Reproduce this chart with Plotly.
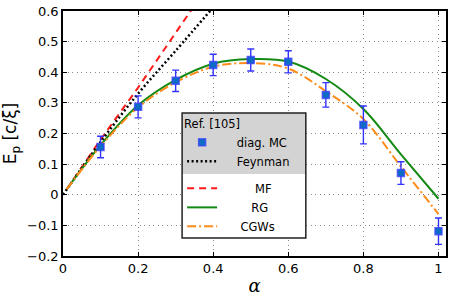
import plotly.graph_objects as go

# ---- data ----
mc_alpha = [0.1, 0.2, 0.3, 0.4, 0.5, 0.6, 0.7, 0.8, 0.9, 1.0]
mc_energy = [0.156, 0.287, 0.372, 0.424, 0.440, 0.434, 0.326, 0.228, 0.071, -0.119]
mc_err = [0.035, 0.036, 0.035, 0.035, 0.036, 0.036, 0.040, 0.062, 0.037, 0.043]

mf_alpha = [0.01, 0.1, 0.2, 0.3, 0.35]
mf_energy = [0.018, 0.180, 0.350, 0.530, 0.618]

feyn_alpha = [0.0, 0.1, 0.2, 0.3, 0.4]
feyn_energy = [0.0, 0.172, 0.330, 0.470, 0.612]

curve_alpha = [0.01, 0.1, 0.2, 0.3, 0.4, 0.5, 0.6, 0.7, 0.8, 0.9, 1.0]
rg_energy = [0.018, 0.162, 0.292, 0.375, 0.428, 0.443, 0.435, 0.378, 0.280, 0.132, -0.013]
cgw_energy = [0.018, 0.158, 0.285, 0.367, 0.418, 0.430, 0.412, 0.338, 0.247, 0.092, -0.063]

x_ticks = [0, 0.2, 0.4, 0.6, 0.8, 1.0]
x_ticklabels = ["0", "0.2", "0.4", "0.6", "0.8", "1"]
y_ticks = [-0.2, -0.1, 0, 0.1, 0.2, 0.3, 0.4, 0.5, 0.6]
y_ticklabels = ["\u22120.2", "\u22120.1", "0", "0.1", "0.2", "0.3", "0.4", "0.5", "0.6"]

NB = "\u00a0"
fig = go.Figure()

fig.add_trace(go.Scatter(
    x=mf_alpha, y=mf_energy, mode="lines", name=NB * 9 + "MF",
    line=dict(color="#ff1a1a", width=2, dash="7px,5px"),
    legendgroup="b", legendrank=3))
fig.add_trace(go.Scatter(
    x=feyn_alpha, y=feyn_energy, mode="lines", name=NB * 4 + "Feynman",
    line=dict(color="black", width=2.5, dash="2px,2.5px"), line_shape="spline",
    legendgroup="a", legendrank=2))
fig.add_trace(go.Scatter(
    x=curve_alpha, y=rg_energy, mode="lines", name=NB * 8 + "RG",
    line=dict(color="#138a13", width=2), line_shape="spline",
    legendgroup="b", legendrank=4))
fig.add_trace(go.Scatter(
    x=curve_alpha, y=cgw_energy, mode="lines", name=NB * 5 + "CGWs",
    line=dict(color="#ff8c1a", width=2, dash="9px,3px,2px,3px"), line_shape="spline",
    legendgroup="b", legendrank=5))
fig.add_trace(go.Scatter(
    x=mc_alpha, y=mc_energy, mode="markers", name=NB * 4 + "diag. MC",
    marker=dict(symbol="square", size=7, color="#0d6cc4",
                line=dict(color="rgba(60,60,255,0.75)", width=1.5)),
    error_y=dict(type="data", array=mc_err, color="#3333ff", thickness=1.4, width=3.5),
    legendgroup="a", legendrank=1))

# legend background panels (gray upper part, white lower part) and frame
fig.add_shape(type="rect", xref="paper", yref="paper", x0=0.311, x1=0.634, y0=0.335, y1=0.584,
              fillcolor="#d3d3d3", line_width=0, layer="above")
fig.add_shape(type="rect", xref="paper", yref="paper", x0=0.311, x1=0.634, y0=0.0735, y1=0.335,
              fillcolor="white", line_width=0, layer="above")
fig.add_shape(type="rect", xref="paper", yref="paper", x0=0.311, x1=0.634, y0=0.0735, y1=0.584,
              fillcolor="rgba(0,0,0,0)", line=dict(color="#222222", width=1.5), layer="above")

axis_common = dict(
    showline=True, linecolor="black", linewidth=1.5, mirror="ticks",
    ticks="inside", ticklen=4, tickwidth=1, tickcolor="black",
    showgrid=True, gridcolor="#888888", gridwidth=1, griddash="1px,3.5px",
    zeroline=False, tickfont=dict(size=13, color="black"), automargin=False,
)

fig.update_layout(
    width=457, height=299,
    margin=dict(l=63, r=11, t=11, b=43, autoexpand=False),
    paper_bgcolor="white", plot_bgcolor="white",
    font=dict(family="DejaVu Sans", color="black"),
    showlegend=True,
    legend=dict(
        x=0.311, y=0.584, xanchor="left", yanchor="top",
        bgcolor="rgba(0,0,0,0)", borderwidth=0,
        font=dict(size=11.5, color="black"),
        title=dict(text="Ref. [105]", font=dict(size=11.5)),
        traceorder="grouped", tracegroupgap=8,
    ),
    xaxis=dict(range=[0, 1.02], tickvals=x_ticks, ticktext=x_ticklabels,
               title=dict(text="<i>α</i>", font=dict(size=18, family="DejaVu Serif"), standoff=4),
               **axis_common),
    yaxis=dict(range=[-0.2, 0.6], tickvals=y_ticks, ticktext=y_ticklabels,
               ticklabeloverflow="allow",
               title=dict(text="E<sub>p</sub> [c/ξ]", font=dict(size=17), standoff=6),
               **axis_common),
)

# remove the page body's default margin so the figure fills the window exactly
fig.write_html("out.html", config={"displayModeBar": False},
               post_script="document.body.style.margin='0';")
